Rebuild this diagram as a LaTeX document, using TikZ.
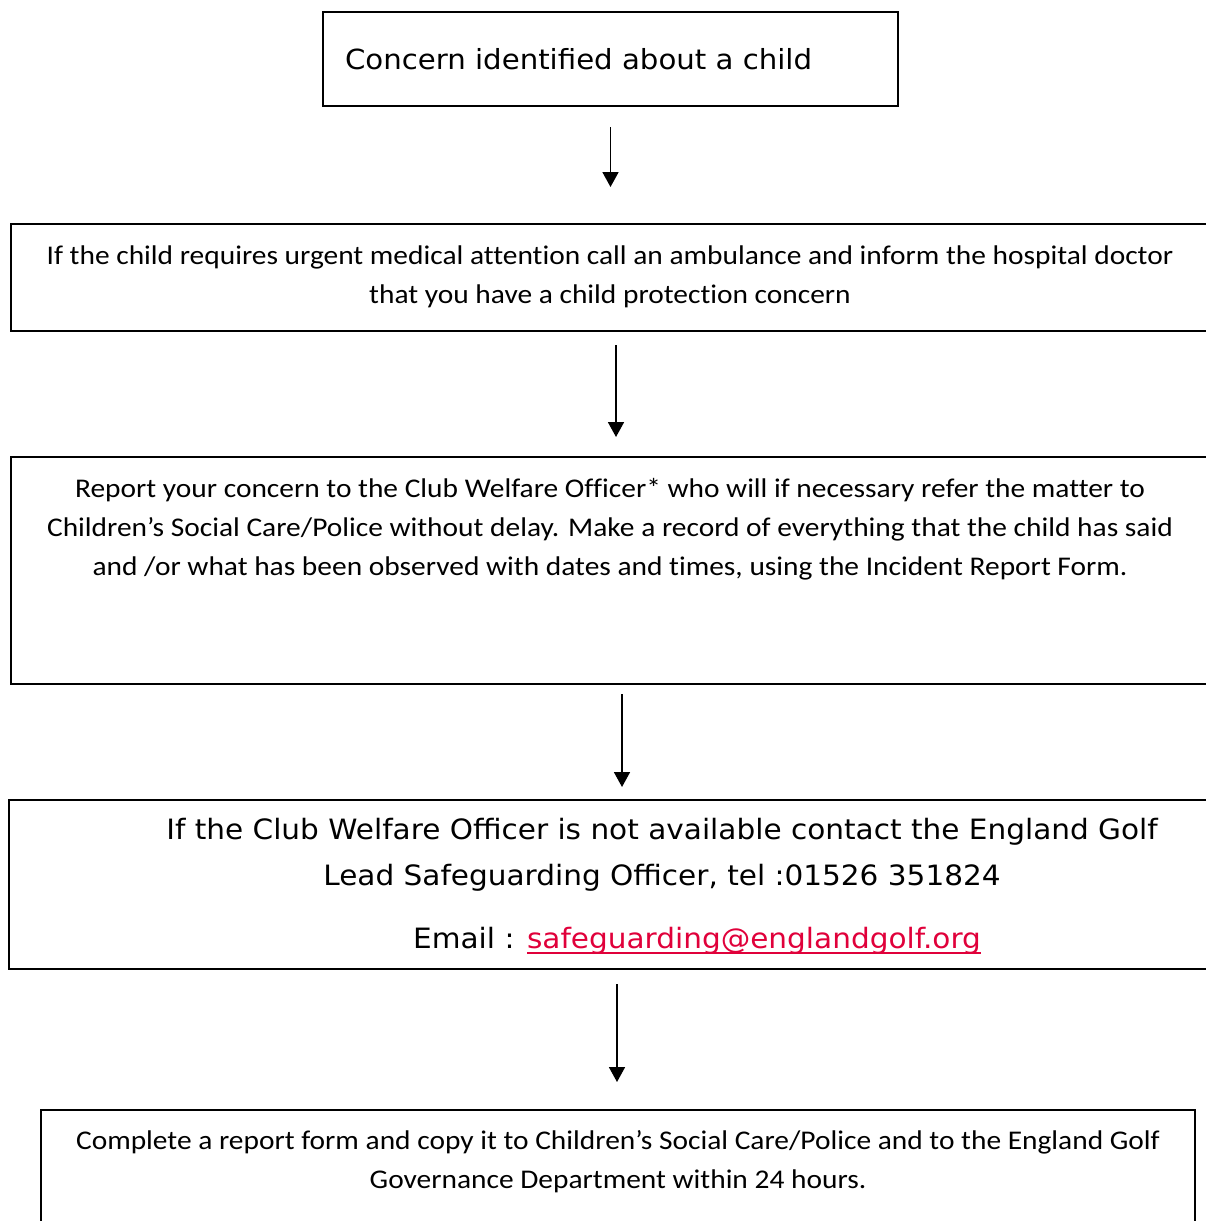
\documentclass[tikz,border=0pt]{standalone}
\usepackage{fontspec}
\usepackage{tikz}
\usetikzlibrary{arrows.meta}
\newfontfamily\calibri[FakeStretch=1.09, Ligatures=NoCommon]{Carlito}
\newfontfamily\verdana[FakeStretch=1.055]{DejaVu Sans}
\definecolor{maillink}{RGB}{224,0,58}
\newcommand\mailline[1]{\setbox0\hbox{#1}\rlap{\rule[-6pt]{\wd0}{1.8pt}}\box0}
\tikzset{
	stepbox/.style={draw=black, line width=2pt, inner sep=0pt},
	flow/.style={-{Triangle[width=16pt,length=15pt]}, line width=1.8pt},
	bodytext/.style={font=\calibri\fontsize{27}{39}\selectfont, align=center, inner sep=0pt},
	widetext/.style={font=\verdana\fontsize{28}{46}\selectfont, align=center, inner sep=0pt}
}

\begin{document}
\begin{tikzpicture}[x=1pt,y=-1pt]
	\useasboundingbox (0,0) rectangle (1206,1221);
	\clip (0,0) rectangle (1206,1221);
	\node[stepbox, minimum width=575pt, minimum height=94pt, inner xsep=22pt,
		text width=531pt, align=left, font=\verdana\fontsize{27.7}{46}\selectfont]
	(concern) at (610.5,59) {Concern identified about a child};
	\node[stepbox, minimum width=1210pt, minimum height=107pt] (urgent) at (616,277.5) {};
	\node[stepbox, minimum width=1222pt, minimum height=227pt] (report) at (622,570.5) {};
	\node[stepbox, minimum width=1216pt, minimum height=169pt] (escalate) at (617,884.5) {};
	\node[stepbox, minimum width=1154pt, minimum height=130pt] (complete) at (618,1175) {};
	\node[bodytext] (urgenttext) at (610,276.5)
	{If the child requires urgent medical attention call an ambulance and inform the hospital doctor\\
		that you have a child protection concern};
	\node[bodytext] (reporttext) at (610,529.5)
	{Report your concern to the Club Welfare Officer* who will if necessary refer the matter to\\
		Children’s Social Care/Police without delay. Make a record of everything that the child has said\\
		and /or what has been observed with dates and times, using the Incident Report Form.};
	\node[widetext] (escalatetext) at (662,854.5)
	{If the Club Welfare Officer is not available contact the England Golf\\
		Lead Safeguarding Officer, tel :01526 351824};
	\node[widetext] (mailtext) at (697,940.5)
	{Email : \textcolor{maillink}{\mailline{safeguarding@englandgolf.org}}};
	\node[bodytext] (completetext) at (618,1162)
	{Complete a report form and copy it to Children’s Social Care/Police and to the England Golf\\
		Governance Department within 24 hours.};
	\draw[flow, shorten <=20pt, shorten >=36pt] (concern.south) -- (concern.south |- urgent.north);
	\draw[flow, shorten <=13pt, shorten >=19pt] (urgent.south) -- (urgent.south |- report.north);
	\draw[flow, shorten <=9pt, shorten >=12pt] (report.south) -- (report.south |- escalate.north);
	\draw[flow, shorten <=14pt, shorten >=27pt] (escalate.south) -- (escalate.south |- complete.north);
\end{tikzpicture}
\end{document}
